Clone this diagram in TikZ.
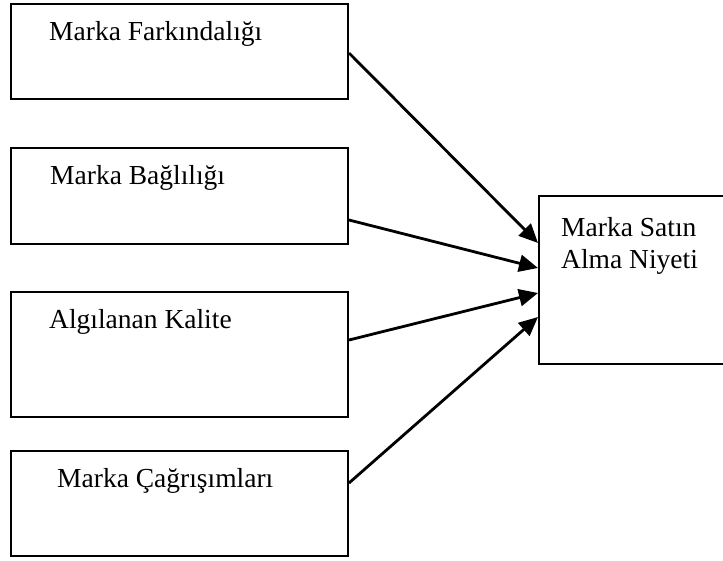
\documentclass[tikz,border=0pt]{standalone}
\usepackage{fontspec}
\setmainfont{Liberation Serif}
\usetikzlibrary{arrows.meta,calc}
\begin{document}
\begin{tikzpicture}[x=1pt,y=-1pt,
  box/.style={draw=black, line width=2pt, rectangle, inner sep=0pt},
  lbl/.style={anchor=base west, inner sep=0pt, font=\fontsize{27.5}{32}\selectfont},
  arr/.style={line width=2.8pt, -{Triangle[length=19pt,width=17pt]}}]
\useasboundingbox (0,0) rectangle (723,561);
\begin{scope}
\clip (0,0) rectangle (723,561);
\node[box, minimum width=337pt, minimum height=95pt] (b1) at (179.5,51.5) {};
\node[box, minimum width=337pt, minimum height=96pt] (b2) at (179.5,196) {};
\node[box, minimum width=337pt, minimum height=125pt] (b3) at (179.5,354.5) {};
\node[box, minimum width=337pt, minimum height=105pt] (b4) at (179.5,503.5) {};
\node[box, minimum width=201pt, minimum height=168pt] (r) at (639.5,280) {};
\end{scope}
\node[lbl] (t1) at (49,41) {Marka Farkındalığı};
\node[lbl] (t2) at (50,185) {Marka Bağlılığı};
\node[lbl] (t3) at (49,329) {Algılanan Kalite};
\node[lbl] (t4) at (57,487) {Marka Çağrışımları};
\node[lbl, align=left] (tr) at (561,269) {Marka Satın\\Alma Niyeti};
\coordinate (s1) at ([yshift=-1.5pt]b1.east);
\coordinate (s2) at ([yshift=-24pt]b2.east);
\coordinate (s3) at ([yshift=14.5pt]b3.east);
\coordinate (s4) at ([yshift=20.5pt]b4.east);
\coordinate (e1) at ([yshift=37pt]r.west);
\coordinate (e2) at ([yshift=12pt]r.west);
\coordinate (e3) at ([yshift=-13pt]r.west);
\coordinate (e4) at ([yshift=-37pt]r.west);
\draw[arr] (s1) -- (e1);
\draw[arr] (s2) -- (e2);
\draw[arr] (s3) -- (e3);
\draw[arr] (s4) -- (e4);
\end{tikzpicture}
\end{document}
